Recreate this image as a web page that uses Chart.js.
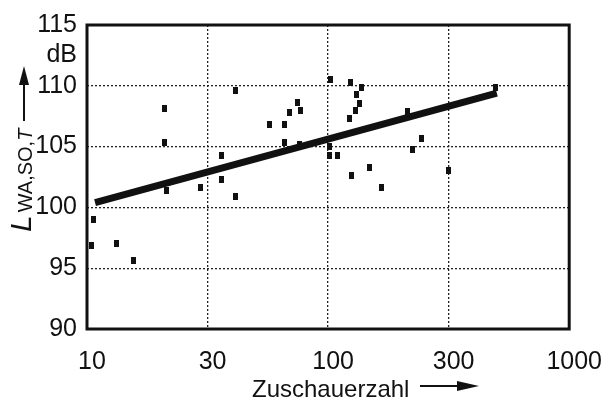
<!DOCTYPE html>
<html lang="de">
<head>
<meta charset="UTF-8">
<title>Schallleistungspegel vs. Zuschauerzahl</title>
<script src="https://cdn.jsdelivr.net/npm/chart.js"></script>
<style>
  body { margin: 0; background: #fff; }
  #wrap { width: 615px; height: 400px; }
</style>
</head>
<body>
<div id="wrap"><canvas id="chart" width="615" height="400"></canvas></div>
<script>
// measured points (Zuschauerzahl, L_WA,SO,T in dB)
var viewers = [10.6, 10.4, 13.2, 15.6, 21.0, 21.0, 21.4, 29.7, 36.2, 36.2, 41.3, 41.3,
  57.2, 65.9, 65.9, 69.3, 74.8, 76.5, 76, 102.6, 101, 101, 108.9, 124, 122.4, 129.5,
  134.5, 131.6, 137, 124.7, 148.9, 166.8, 213.4, 223, 244, 314.8, 494];
var levels = [99.0, 96.9, 97.05, 95.6, 108.1, 105.3, 101.4, 101.6, 104.3, 102.3, 100.9, 109.6,
  106.8, 106.8, 105.3, 107.8, 108.6, 107.95, 105.2, 110.5, 105.0, 104.3, 104.3, 110.3, 107.35, 108.0,
  108.55, 109.3, 109.85, 102.6, 103.3, 101.6, 107.9, 104.8, 105.7, 103.0, 109.9];

// regression line end points
var fitX = [10.8, 501];
var fitY = [100.4, 109.4];

// x ticks sit on half decades, labelled as rounded values
var xTickValues = [10, 31.62, 100, 316.2, 1000];
var xTickLabels = ['10', '30', '100', '300', '1000'];
var yTicks = [90, 95, 100, 105, 110, 115];

var FONT = "'Liberation Sans', Arial, sans-serif";

var dot = document.createElement('canvas');
dot.width = 5; dot.height = 7;
var dctx = dot.getContext('2d');
dctx.fillStyle = '#111';
dctx.fillRect(0, 0, 5, 7);

var points = viewers.map(function (v, i) { return { x: v, y: levels[i] }; });
var fitLine = fitX.map(function (v, i) { return { x: v, y: fitY[i] }; });

function arrow(ctx, x1, y1, x2, y2, head, half) {
  var ang = Math.atan2(y2 - y1, x2 - x1);
  ctx.beginPath();
  ctx.moveTo(x1, y1);
  ctx.lineTo(x2 - head * Math.cos(ang), y2 - head * Math.sin(ang));
  ctx.stroke();
  ctx.beginPath();
  ctx.moveTo(x2, y2);
  ctx.lineTo(x2 - head * Math.cos(ang) - half * Math.sin(ang), y2 - head * Math.sin(ang) + half * Math.cos(ang));
  ctx.lineTo(x2 - head * Math.cos(ang) + half * Math.sin(ang), y2 - head * Math.sin(ang) - half * Math.cos(ang));
  ctx.closePath();
  ctx.fill();
}

var decor = {
  id: 'decor',
  beforeDatasetsDraw: function (chart) {
    var ctx = chart.ctx, a = chart.chartArea;
    ctx.save();
    ctx.strokeStyle = '#111';
    ctx.lineWidth = 3;
    ctx.strokeRect(a.left, a.top, a.right - a.left, a.bottom - a.top);
    ctx.restore();
  },
  afterDraw: function (chart) {
    var ctx = chart.ctx;
    ctx.save();
    ctx.fillStyle = '#111';
    ctx.strokeStyle = '#111';

    // unit
    ctx.font = '25px ' + FONT;
    ctx.textAlign = 'right';
    ctx.textBaseline = 'middle';
    ctx.fillText('dB', 77, 55);

    // y title, rotated
    ctx.save();
    ctx.translate(31, 232);
    ctx.rotate(-Math.PI / 2);
    ctx.textAlign = 'left';
    ctx.textBaseline = 'alphabetic';
    ctx.font = 'italic 30px ' + FONT;
    ctx.fillText('L', 0, 0);
    var w = ctx.measureText('L').width + 3;
    ctx.font = '20px ' + FONT;
    ctx.fillText('WA,SO,', w, 1);
    w += ctx.measureText('WA,SO,').width;
    ctx.font = 'italic 20px ' + FONT;
    ctx.fillText('T', w, 1);
    ctx.restore();

    ctx.lineWidth = 2;
    arrow(ctx, 24, 121, 24, 66, 19, 5);

    // x title
    ctx.font = '24px ' + FONT;
    ctx.textAlign = 'left';
    ctx.textBaseline = 'alphabetic';
    ctx.fillText('Zuschauerzahl', 252, 397);
    arrow(ctx, 420, 386, 479, 386, 22, 5);
    ctx.restore();
  }
};

new Chart(document.getElementById('chart'), {
  type: 'scatter',
  data: {
    datasets: [{
      data: points,
      pointStyle: dot,
      pointRadius: 3,
      showLine: false,
      order: 2
    }, {
      type: 'line',
      data: fitLine,
      borderColor: '#111',
      borderWidth: 7,
      borderCapStyle: 'butt',
      pointRadius: 0,
      fill: false,
      order: 1
    }]
  },
  options: {
    responsive: false,
    animation: false,
    layout: { padding: { top: 23, right: 42, left: 0, bottom: 0 } },
    plugins: { legend: { display: false }, tooltip: { enabled: false } },
    scales: {
      x: {
        type: 'logarithmic',
        min: 10,
        max: 1000,
        afterBuildTicks: function (scale) {
          scale.ticks = xTickValues.map(function (v) { return { value: v }; });
        },
        afterFit: function (scale) { scale.height = 71; },
        ticks: {
          autoSkip: false,
          maxRotation: 0,
          labelOffset: 5,
          padding: 18,
          color: '#111',
          font: { family: FONT, size: 25 },
          callback: function (value, index) { return xTickLabels[index]; }
        },
        grid: {
          drawTicks: false,
          lineWidth: 1.3,
          color: function (c) {
            return (c.index === 0 || c.index === xTickValues.length - 1) ? 'rgba(0,0,0,0)' : '#222';
          }
        },
        border: { display: false, dash: [2, 2] }
      },
      y: {
        min: 90,
        max: 115,
        afterBuildTicks: function (scale) {
          scale.ticks = yTicks.map(function (v) { return { value: v }; });
        },
        afterFit: function (scale) { scale.width = 87; },
        ticks: {
          padding: 10,
          color: '#111',
          font: { family: FONT, size: 25 }
        },
        grid: {
          drawTicks: false,
          lineWidth: 1.3,
          color: function (c) {
            var v = c.tick ? c.tick.value : null;
            return (v === 90 || v === 115) ? 'rgba(0,0,0,0)' : '#222';
          }
        },
        border: { display: false, dash: [2, 2] }
      }
    }
  },
  plugins: [decor]
});
</script>
</body>
</html>
